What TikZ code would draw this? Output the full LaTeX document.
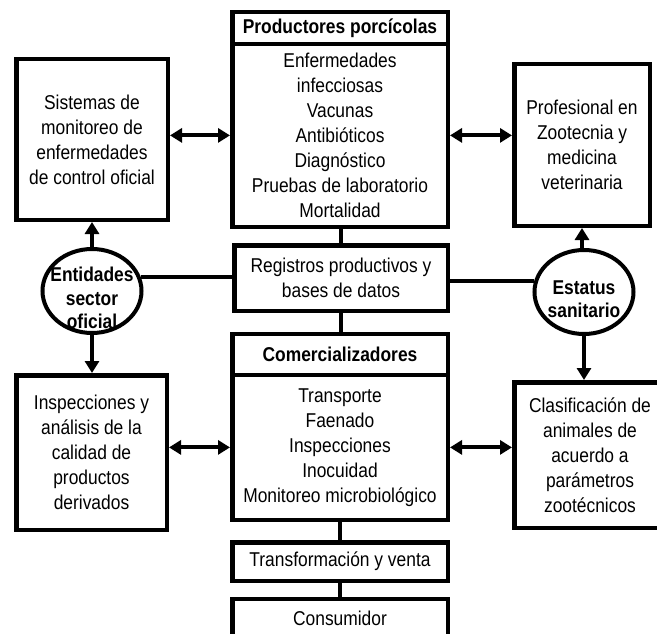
\documentclass[tikz,border=0pt]{standalone}
\usepackage{fontspec}
\setmainfont{Liberation Sans}[FakeStretch=0.87]
\usetikzlibrary{arrows.meta,shapes.geometric}
\begin{document}
\begin{tikzpicture}[x=1pt,y=1pt,
  txt/.style={font=\fontsize{20}{25}\selectfont},
  box/.style={draw, line width=4.5pt, inner sep=0pt, align=center, txt},
  hdr/.style={box, font=\fontsize{20}{25}\selectfont\bfseries},
  oval/.style={draw, ellipse, line width=4pt, fill=white, minimum width=99pt, minimum height=84pt, inner sep=0pt},
  ovaltext/.style={align=center, font=\fontsize{20}{23.5}\selectfont\bfseries},
  link/.style={line width=4pt},
  arr/.style={line width=4pt, -{Triangle[length=12pt,width=14pt]}},
  darr/.style={line width=4pt, {Triangle[length=12pt,width=14pt]}-{Triangle[length=12pt,width=14pt]}}
]
\useasboundingbox (0,0) rectangle (657,-634);
\clip (0,0) rectangle (657,-634);

% central column
\node[hdr, minimum width=215.5pt, minimum height=31.75pt] (prodh) at (340,-28.1) {Productores porcícolas};
\node[box, minimum width=215.5pt, minimum height=182.75pt] (prodb) at (340,-135.4)
  {Enfermedades\\infecciosas\\Vacunas\\Antibióticos\\Diagnóstico\\Pruebas de laboratorio\\Mortalidad};
\node[box, minimum width=213.5pt, minimum height=65.5pt] (reg) at (341,-278)
  {Registros productivos y\\bases de datos};
\node[hdr, minimum width=215.5pt, minimum height=40.75pt] (comh) at (340,-354.6) {Comercializadores};
\node[box, minimum width=215.5pt, minimum height=144.75pt] (comb) at (340,-447.4)
  {Transporte\\Faenado\\Inspecciones\\Inocuidad\\Monitoreo microbiológico};
\node[box, minimum width=215.5pt, minimum height=38.5pt] (trans) at (340,-561.5) {Transformación y venta};
\node[box, minimum width=215.5pt, minimum height=49.5pt, text depth=10pt] (cons) at (340,-623.5) {Consumidor};

% side boxes
\node[box, minimum width=151.5pt, minimum height=160.5pt] (sis) at (92,-139.5)
  {Sistemas de\\monitoreo de\\enfermedades\\de control oficial};
\node[box, minimum width=150.5pt, minimum height=154.5pt] (insp) at (91.5,-452.5)
  {Inspecciones y\\análisis de la\\calidad de\\productos\\derivados};
\node[box, minimum width=135.5pt, minimum height=161.5pt] (prof) at (582,-145)
  {Profesional en\\Zootecnia y\\medicina\\veterinaria};
\node[box, minimum width=151.5pt, minimum height=145.5pt] (clas) at (590,-455)
  {Clasificación de\\animales de\\acuerdo a\\parámetros\\zootécnicos};

% ovals
\node[oval] (ent) at (92,-291) {};
\node[ovaltext] (entt) at (92,-298) {Entidades\\sector\\oficial};
\node[oval] (est) at (584,-292) {};
\node[ovaltext] (estt) at (584,-299) {Estatus\\sanitario};

% vertical links in central column
\draw[link] (reg.north) -- (reg.north |- prodb.south);
\draw[link] (reg.south) -- (reg.south |- comh.north);
\draw[link] (trans.north) -- (trans.north |- comb.south);
\draw[link] (trans.south) -- (trans.south |- cons.north);

% horizontal links to ovals
\draw[link] (ent.16) -- (ent.16 -| reg.west);
\draw[link] (est.167) -- (est.167 -| reg.east);

% double arrows
\draw[darr] (prodb.west -| sis.east) -- (prodb.west);
\draw[darr] (prodb.east) -- (prodb.east -| prof.west);
\draw[darr] (comb.west -| insp.east) -- (comb.west);
\draw[darr] (comb.east) -- (comb.east -| clas.west);

% oval arrows
\draw[arr] (ent.north) -- (ent.north |- sis.south);
\draw[arr] (ent.south) -- (ent.south |- insp.north);
\draw[arr] (est.north -| prof.south) -- (prof.south);
\draw[arr] (est.south) -- (est.south |- clas.north);
\end{tikzpicture}
\end{document}
